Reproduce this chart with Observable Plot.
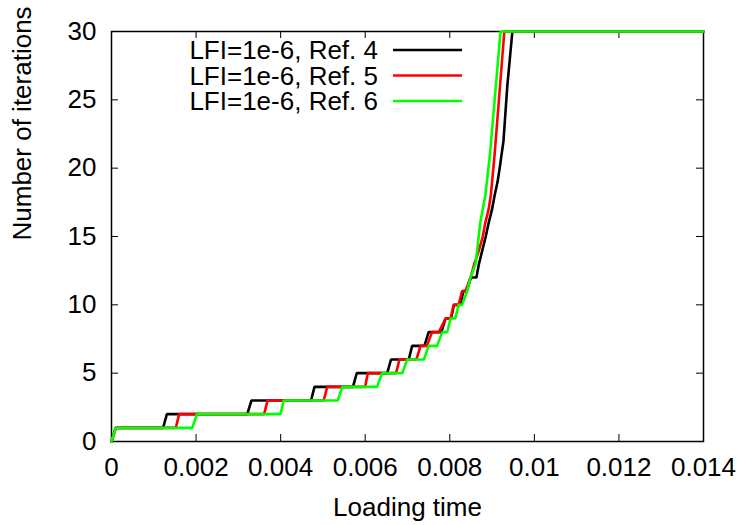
<!DOCTYPE html>
<html><head><meta charset="utf-8">
<script src="https://cdn.jsdelivr.net/npm/d3@7"></script>
<script src="https://cdn.jsdelivr.net/npm/@observablehq/plot@0.6"></script>
<style>
body{margin:0;background:#fff}
#chart{position:relative;width:750px;height:525px}
</style>
</head><body><div id="chart"></div>
<script>
// ---- data ----
const seriesNames = ["LFI=1e-6, Ref. 4", "LFI=1e-6, Ref. 5", "LFI=1e-6, Ref. 6"];
const seriesColors = ["#000000", "#ff0000", "#00ff00"];

const tRef4 = [0,0.0001,0.00122,0.00131,0.00321,0.00331,0.00472,0.0048,0.00571,0.0058,0.00652,0.00661,0.00703,0.00711,0.0074,0.0075,0.0078,0.0079,0.00803,0.0081,0.00825,0.00832,0.0084,0.0085,0.00863,0.00869,0.00877,0.00885,0.00892,0.009,0.00906,0.00913,0.00918,0.00927,0.00936,0.00948,0.014];
const nRef4 = [0,1,1,2,2,3,3,4,4,5,5,6,6,7,7,8,8,9,9,10,10,11,11,12,12,13,14,15,16,17,18,19,20,22,26,30,30];

const tRef5 = [0,0.0001,0.00152,0.0016,0.00361,0.00369,0.00502,0.0051,0.006,0.00606,0.00673,0.00681,0.00721,0.00731,0.00746,0.00758,0.00774,0.0079,0.00802,0.00809,0.00821,0.00829,0.00837,0.00849,0.00858,0.00869,0.00878,0.00884,0.00892,0.00897,0.009,0.00906,0.00929,0.014];
const nRef5 = [0,1,1,2,2,3,3,4,4,5,5,6,6,7,7,8,8,9,9,10,10,11,11,12,13,14,15,16,17,18,19,21,30,30];

const tRef6 = [0,0.0001,0.00191,0.00202,0.004,0.00407,0.00535,0.00546,0.00628,0.0064,0.00688,0.00699,0.00739,0.0075,0.0077,0.00782,0.00794,0.00802,0.00813,0.00821,0.00829,0.00841,0.00849,0.00861,0.00872,0.00884,0.00895,0.0092,0.014];
const nRef6 = [0,1,1,2,2,3,3,4,4,5,5,6,6,7,7,8,8,9,9,10,10,11,12,13,16,18,21,30,30];

const xTicks = [0,0.002,0.004,0.006,0.008,0.01,0.012,0.014];
const xTickLabels = ["0","0.002","0.004","0.006","0.008","0.01","0.012","0.014"];
const yTicks = [0,5,10,15,20,25,30];
const xLabel = "Loading time";
const yLabel = "Number of iterations";

// ---- build rows ----
const seriesT = [tRef4, tRef5, tRef6];
const seriesN = [nRef4, nRef5, nRef6];
const rows = [];
seriesNames.forEach((s, k) => {
  seriesT[k].forEach((t, i) => rows.push({series: s, t, n: seriesN[k][i]}));
});

const FONT = "'Liberation Sans', Arial, Helvetica, sans-serif";
const FS = 26;

const chart = Plot.plot({
  width: 750, height: 525,
  marginLeft: 111, marginRight: 47, marginTop: 31, marginBottom: 84,
  style: {fontFamily: FONT, fontSize: FS + "px", background: "#fff", color: "#000"},
  x: {domain: [0, 0.014]},
  y: {domain: [0, 30]},
  color: {domain: seriesNames, range: seriesColors},
  marks: [
    // inward ticks (bottom, top, left, right)
    Plot.ruleX(xTicks, {x: d => d, y1: 0, y2: 0, insetTop: -7, stroke: "#000", strokeWidth: 1}),
    Plot.ruleX(xTicks, {x: d => d, y1: 30, y2: 30, insetBottom: -7, stroke: "#000", strokeWidth: 1}),
    Plot.ruleY(yTicks, {y: d => d, x1: 0, x2: 0, insetRight: -7, stroke: "#000", strokeWidth: 1}),
    Plot.ruleY(yTicks, {y: d => d, x1: 0.014, x2: 0.014, insetLeft: -7, stroke: "#000", strokeWidth: 1}),
    Plot.frame({stroke: "#000", strokeWidth: 1.5}),
    Plot.line(rows, {x: "t", y: "n", z: "series", stroke: "series", strokeWidth: 2.6, strokeLinejoin: "miter"}),
    Plot.axisX(xTicks, {tickSize: 0, tickPadding: 16, tickFormat: (d, i) => xTickLabels[i], fontSize: FS, label: null}),
    Plot.axisY(yTicks, {tickSize: 0, tickPadding: 15, fontSize: FS, label: null}),
    Plot.text([xLabel], {frameAnchor: "bottom", dy: 74, fontSize: FS}),
    Plot.text([yLabel], {frameAnchor: "left", dx: -89, dy: 4, rotate: -90, fontSize: FS})
  ]
});
document.getElementById("chart").appendChild(chart);

// ---- legend (inside plot, top) ----
const svg = d3.select(chart);
const lg = svg.append("g").attr("font-family", FONT).attr("font-size", FS);
seriesNames.forEach((s, i) => {
  const cy = 50 + i * 25.5;
  lg.append("text").attr("x", 378).attr("y", cy).attr("dy", "0.35em")
    .attr("text-anchor", "end").attr("fill", "#000").text(s);
  lg.append("line").attr("x1", 393).attr("x2", 462).attr("y1", cy).attr("y2", cy)
    .attr("stroke", seriesColors[i]).attr("stroke-width", 2.5);
});
</script>
</body></html>
